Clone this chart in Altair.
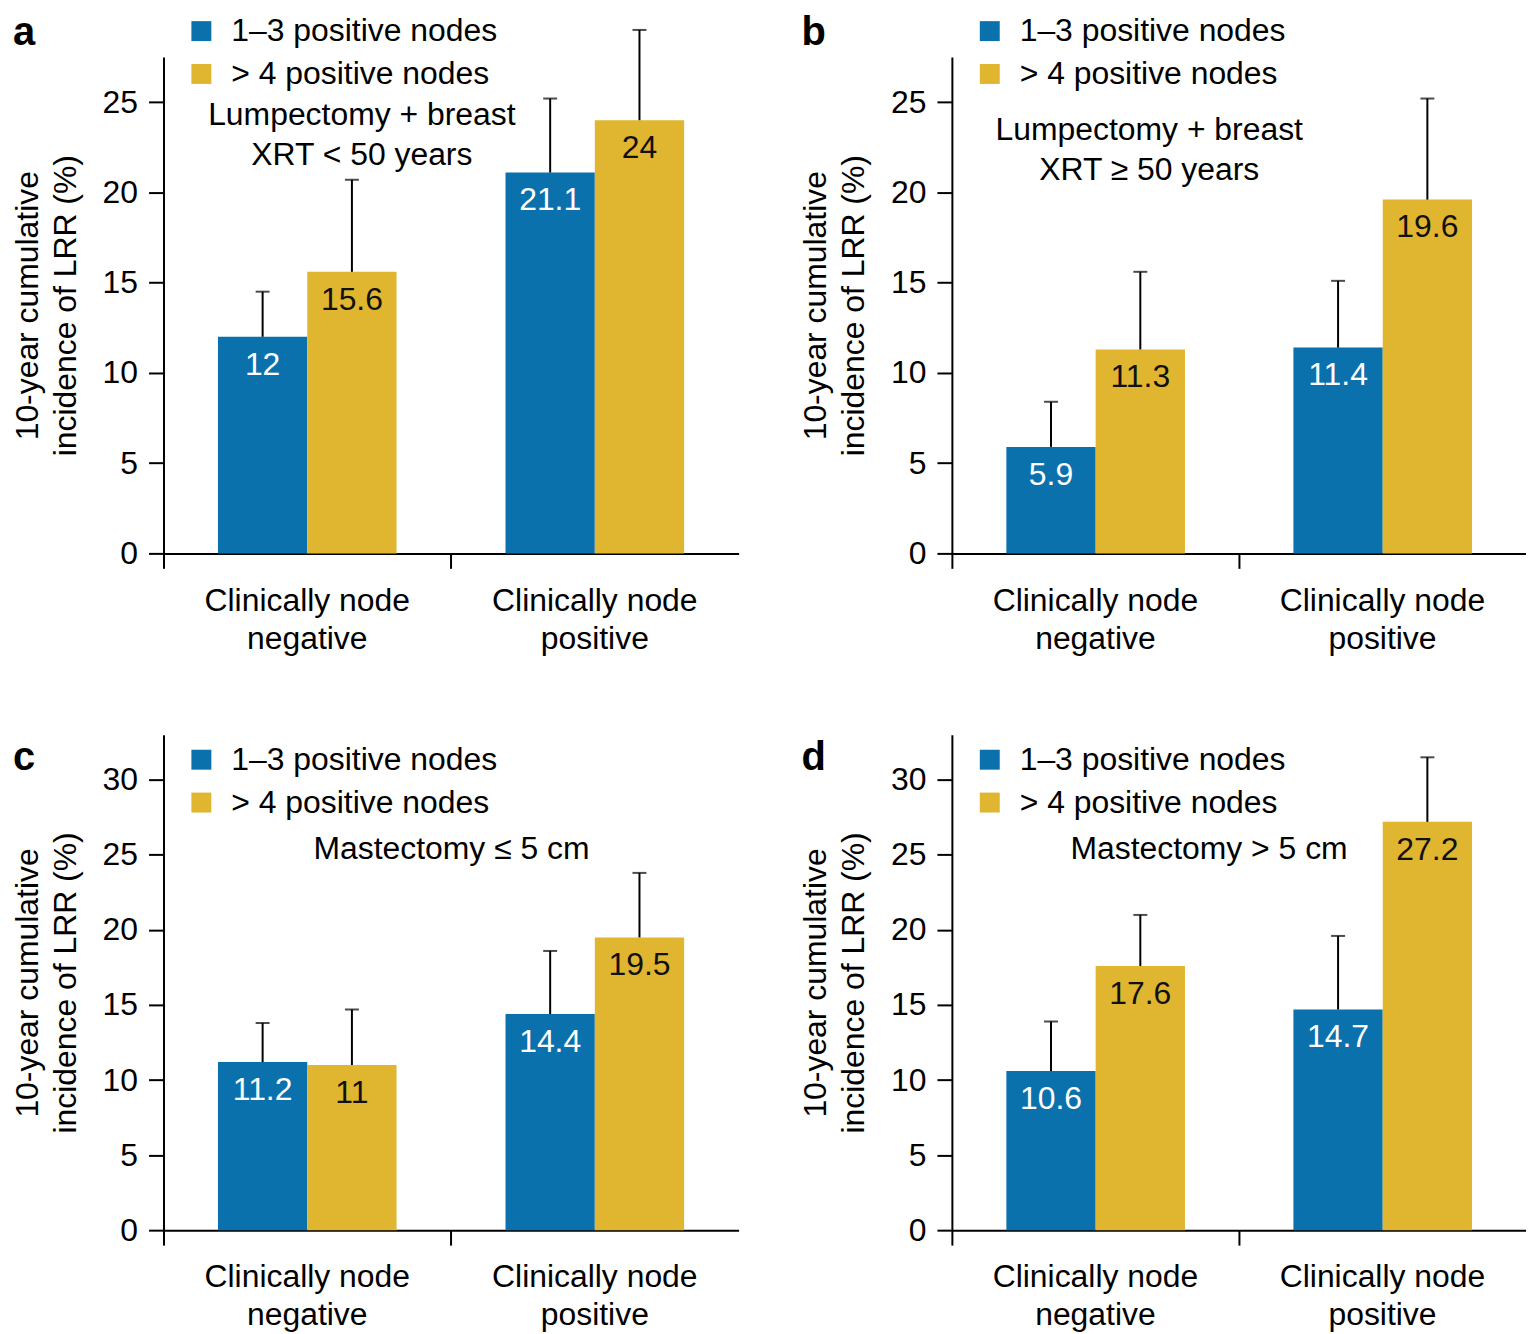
import altair as alt
import pandas as pd

FONT = "Liberation Sans"
BLUE = "#0b71ad"
GOLD = "#e0b52f"

groups = ["Clinically node negative", "Clinically node positive"]
series = ["1–3 positive nodes", "> 4 positive nodes"]

# order: (negative, 1-3), (negative, >4), (positive, 1-3), (positive, >4)
a_vals = [12, 15.6, 21.1, 24]
a_upper = [14.5, 20.7, 25.2, 29.0]
b_vals = [5.9, 11.3, 11.4, 19.6]
b_upper = [8.4, 15.6, 15.1, 25.2]
c_vals = [11.2, 11, 14.4, 19.5]
c_upper = [13.8, 14.7, 18.6, 23.8]
d_vals = [10.6, 17.6, 14.7, 27.2]
d_upper = [13.9, 21.0, 19.6, 31.5]

top_ticks = [0, 5, 10, 15, 20, 25]
bottom_ticks = [0, 5, 10, 15, 20, 25, 30]

notes_a = ["Lumpectomy + breast", "XRT < 50 years"]
notes_b = ["Lumpectomy + breast", "XRT ≥ 50 years"]
notes_c = ["Mastectomy ≤ 5 cm"]
notes_d = ["Mastectomy > 5 cm"]


def text_layer(txt, xpx, ypx, size=32, weight="normal", align="center", baseline="middle"):
    return alt.Chart(pd.DataFrame({"t": [txt]})).mark_text(
        font=FONT, fontSize=size, fontWeight=weight, align=align,
        baseline=baseline, color="black"
    ).encode(x=alt.value(xpx), y=alt.value(ypx), text="t:N")


def panel(letter, vals, upper, notes, ymax, yvals, width, height,
          legend_y, note_x, note_y, letter_y):
    df = pd.DataFrame({
        "group": [g for g in groups for s in series],
        "series": [s for g in groups for s in series],
        "value": vals,
        "upper": upper,
        "label": [f"{v:g}" for v in vals],
    })
    base = alt.Chart(df)
    x = alt.X(
        "group:N", sort=groups,
        scale=alt.Scale(paddingInner=0, paddingOuter=0),
        axis=alt.Axis(
            title=None, labelAngle=0, bandPosition=0,
            labelExpr="[slice(datum.label, 0, 15), slice(datum.label, 16)]",
            labelFont=FONT, labelFontSize=32, labelColor="black",
            labelLineHeight=38, labelPadding=17, labelLimit=400,
            tickSize=15, tickWidth=2, tickColor="black",
            domainWidth=2, domainColor="black",
        ),
    )
    xo = alt.XOffset("series:N", sort=series,
                     scale=alt.Scale(paddingInner=0, paddingOuter=0.61))
    yscale = alt.Scale(domain=[0, ymax], nice=False, zero=True)
    y = alt.Y(
        "value:Q", scale=yscale,
        axis=alt.Axis(
            values=yvals, grid=False,
            title=["10-year cumulative", "incidence of LRR (%)"],
            titleFont=FONT, titleFontSize=32, titleFontWeight="normal",
            titleColor="black", titleLineHeight=38, titlePadding=20,
            labelFont=FONT, labelFontSize=32, labelColor="black",
            labelPadding=11,
            tickSize=15, tickWidth=2, tickColor="black",
            domainWidth=2, domainColor="black",
        ),
    )
    bars = base.mark_bar().encode(
        x=x, xOffset=xo, y=y,
        color=alt.Color(
            "series:N", sort=series, title=None,
            scale=alt.Scale(domain=series, range=[BLUE, GOLD]),
            legend=alt.Legend(
                orient="none", legendX=22, legendY=legend_y,
                symbolType="square", symbolSize=400, symbolStrokeWidth=0,
                labelFont=FONT, labelFontSize=32, labelColor="black",
                labelOffset=14, rowPadding=11, labelLimit=500, padding=0,
            ),
        ),
    )
    err = base.mark_rule(color="black", strokeWidth=2).encode(
        x=x, xOffset=xo, y=alt.Y("value:Q", scale=yscale), y2="upper:Q"
    )
    cap = base.mark_tick(color="black", thickness=2, size=14).encode(
        x=x, xOffset=xo, y=alt.Y("upper:Q", scale=yscale)
    )
    labels = base.mark_text(font=FONT, fontSize=32, baseline="middle", dy=28).encode(
        x=x, xOffset=xo, y=alt.Y("value:Q", scale=yscale), text="label:N",
        color=alt.condition(alt.datum.series == series[0],
                            alt.value("white"), alt.value("#111111")),
    )
    layers = [bars, err, cap, labels]
    for i, line in enumerate(notes):
        layers.append(text_layer(line, note_x, note_y + i * 40))
    layers.append(text_layer(letter, -151, letter_y, size=40, weight="bold",
                             align="left", baseline="alphabetic"))
    return alt.layer(*layers).properties(width=width, height=height)


pa = panel("a", a_vals, a_upper, notes_a, 27.5, top_ticks, 577, 498, -42, 199, 58, -12)
pb = panel("b", b_vals, b_upper, notes_b, 27.5, top_ticks, 576, 498, -42, 198, 73, -12)
pc = panel("c", c_vals, c_upper, notes_c, 33, bottom_ticks, 577, 497, 9, 289, 115, 35)
pd_ = panel("d", d_vals, d_upper, notes_d, 33, bottom_ticks, 576, 497, 9, 258, 115, 35)

row1 = alt.hconcat(pa, pb, spacing=61).resolve_scale(color="independent", y="independent", x="independent").resolve_legend(color="independent")
row2 = alt.hconcat(pc, pd_, spacing=61).resolve_scale(color="independent", y="independent", x="independent").resolve_legend(color="independent")

chart = alt.vconcat(row1, row2, spacing=81).resolve_scale(
    color="independent", y="independent", x="independent"
).resolve_legend(color="independent").properties(
    padding={"left": 3, "top": 3, "right": 0, "bottom": 0}
).configure_view(stroke=None)

chart.save("out.html", embed_options={"renderer": "svg", "actions": False})
